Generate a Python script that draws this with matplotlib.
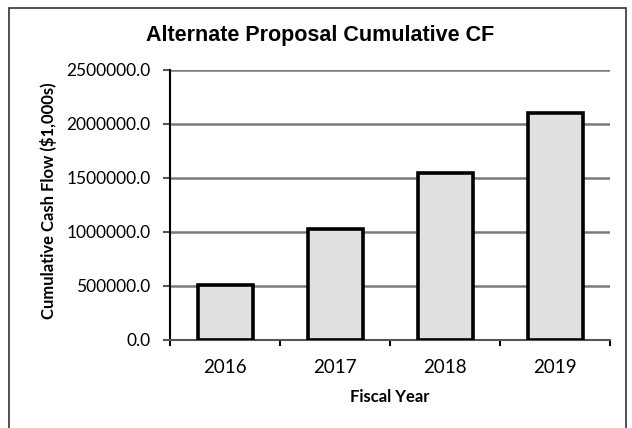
import matplotlib
matplotlib.use("Agg")
import matplotlib.pyplot as plt
from matplotlib.patches import Rectangle
import numpy as np

years = ["2016", "2017", "2018", "2019"]
cum_cf = [505000.0, 1025000.0, 1550000.0, 2100000.0]
yticks = [0, 500000, 1000000, 1500000, 2000000, 2500000]

W, H = 632, 428
fig = plt.figure(figsize=(W / 100, H / 100), dpi=100)
fig.patch.set_facecolor("white")
# outer chart border
fig.add_artist(Rectangle((9 / W, -0.01), 617 / W, 1.01 - 8 / H, transform=fig.transFigure,
                         fill=False, edgecolor="#333333", linewidth=1.2))

ax = fig.add_axes([170 / W, 1 - 340 / H, 440 / W, 270 / H])
x = np.arange(len(years))
ax.bar(x, cum_cf, width=0.5, color="#e0e0e0", edgecolor="black", linewidth=2.6, zorder=3)
ax.set_xlim(-0.5, len(years) - 0.5)
ax.set_ylim(0, 2500000)
ax.set_yticks(yticks)
ax.set_yticklabels([f"{v:.1f}" for v in yticks])
ax.yaxis.grid(True, color="#7a7a7a", linewidth=1.8, zorder=0)
ax.set_xticks(x)
ax.set_xticklabels(years)
ax.set_xticks(np.arange(-0.5, len(years)), minor=True)
ax.tick_params(axis="x", which="major", length=0, pad=14)
ax.tick_params(axis="x", which="minor", length=4, width=1.5, direction="out")
ax.tick_params(axis="y", length=5, width=1.5, direction="out", pad=9, color="#555555")
for s in ["top", "right"]:
    ax.spines[s].set_visible(False)
ax.spines["left"].set_linewidth(1.5)
ax.spines["bottom"].set_linewidth(1.5)
ax.spines["bottom"].set_color("#555555")

for lbl in ax.get_yticklabels():
    lbl.set_fontfamily("Lato")
    lbl.set_fontsize(12.5)
for lbl in ax.get_xticklabels():
    lbl.set_fontfamily("Lato")
    lbl.set_fontsize(13.5)

fig.text(390 / W, 1 - 397 / H, "Fiscal Year", ha="center", va="center",
         fontfamily="Lato", fontweight="bold", fontsize=12)
fig.text(49 / W, 1 - 201 / H, "Cumulative Cash Flow ($1,000s)", ha="center", va="center",
         rotation=90, fontfamily="Lato", fontweight="bold", fontsize=12)
fig.text(320 / W, 1 - 36 / H, "Alternate Proposal Cumulative CF", ha="center", va="center",
         fontfamily="Liberation Sans", fontweight="bold", fontsize=15.5)

fig.savefig("out.png", dpi=100, facecolor="white")
